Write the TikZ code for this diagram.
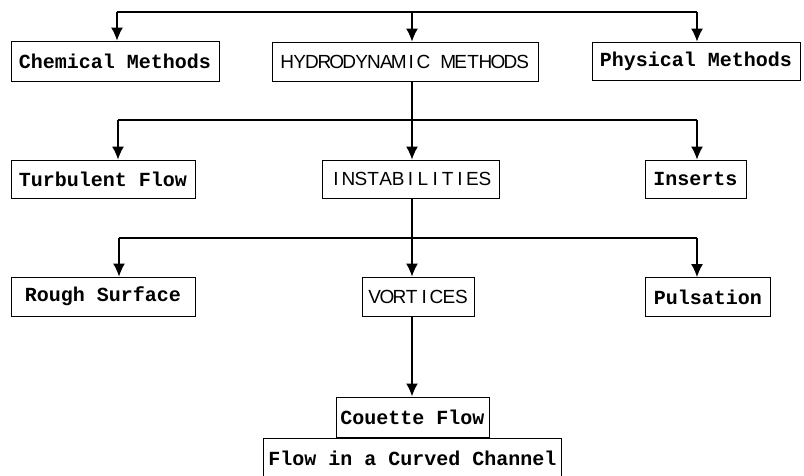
\documentclass[tikz,border=0pt]{standalone}
\usepackage{fontspec}
\usepackage{tikz}
\usetikzlibrary{arrows.meta, positioning}
\newfontfamily\codefont{Liberation Mono}
\newfontfamily\capsfont{Liberation Sans}
% Grossbuchstaben in gleich breiten Zellen
\newcommand{\cellcaps}[1]{\cellcapsi#1\relax}
\def\cellcapsi#1{\ifx#1\relax\else\makebox[12.4pt]{#1}\expandafter\cellcapsi\fi}

\begin{document}
\begin{tikzpicture}[x=1pt, y=-1pt, line width=1.2pt,
    bold/.style={draw, rectangle, line width=1pt, inner sep=0pt, font=\codefont\bfseries\fontsize{20}{20}\selectfont},
    caps/.style={draw, rectangle, line width=1pt, inner sep=0pt, font=\capsfont\fontsize{19}{19}\selectfont},
    link/.style={-{Latex[length=13pt, width=12pt]}}]
    \useasboundingbox (0,0) rectangle (804,475);
    % Ebene 1
    \node[bold, minimum width=208, minimum height=40] (chem) at (115,61) {Chemical Methods};
    \node[caps, minimum width=266, minimum height=39] (hydro) at (405,61.5) {\cellcaps{HYDRODYNAMIC~METHODS}};
    \node[bold, minimum width=208, minimum height=38] (phys) at (696,61) {Physical Methods};
    \coordinate (t1) at (117,12);
    \coordinate (t2) at (412,12);
    \coordinate (t3) at (697,12);
    \draw (t1) -- (t3);
    \foreach \c/\n in {t1/chem, t2/hydro, t3/phys} {
        \draw[link] (\c) -- (\n.north -| \c);
    }
    % Ebene 2
    \node[bold, minimum width=184, minimum height=38] (turb) at (103,179) {Turbulent Flow};
    \node[caps, minimum width=177, minimum height=38] (inst) at (410.5,179) {\cellcaps{INSTABILITIES}};
    \node[bold, minimum width=101, minimum height=38] (ins) at (695.5,179) {Inserts};
    \coordinate (m1) at (118,120);
    \coordinate (m2) at (412,120);
    \coordinate (m3) at (697,120);
    \draw (m1) -- (m3);
    \draw (hydro.south -| m2) -- (m2);
    \foreach \c/\n in {m1/turb, m2/inst, m3/ins} {
        \draw[link] (\c) -- (\n.north -| \c);
    }
    % Ebene 3
    \node[bold, minimum width=184, minimum height=39] (rough) at (103,296.5) {Rough Surface};
    \node[caps, minimum width=112, minimum height=39] (vort) at (418,296.5) {\cellcaps{VORTICES}};
    \node[bold, minimum width=125, minimum height=39] (puls) at (708,297) {Pulsation};
    \coordinate (b1) at (119,238);
    \coordinate (b2) at (412,238);
    \coordinate (b3) at (697,238);
    \draw (b1) -- (b3);
    \draw (inst.south -| b2) -- (b2);
    \foreach \c/\n in {b1/rough, b2/vort, b3/puls} {
        \draw[link] (\c) -- (\n.north -| \c);
    }
    % Ebene 4
    \node[bold, minimum width=153, minimum height=40] (couette) at (412.5,417) {Couette Flow};
    \node[bold, minimum width=298, minimum height=40, below=0pt of couette] (curved) {Flow in a Curved Channel};
    \draw[link, line width=2pt] (vort.south -| b2) -- (couette.north -| b2);
\end{tikzpicture}
\end{document}
